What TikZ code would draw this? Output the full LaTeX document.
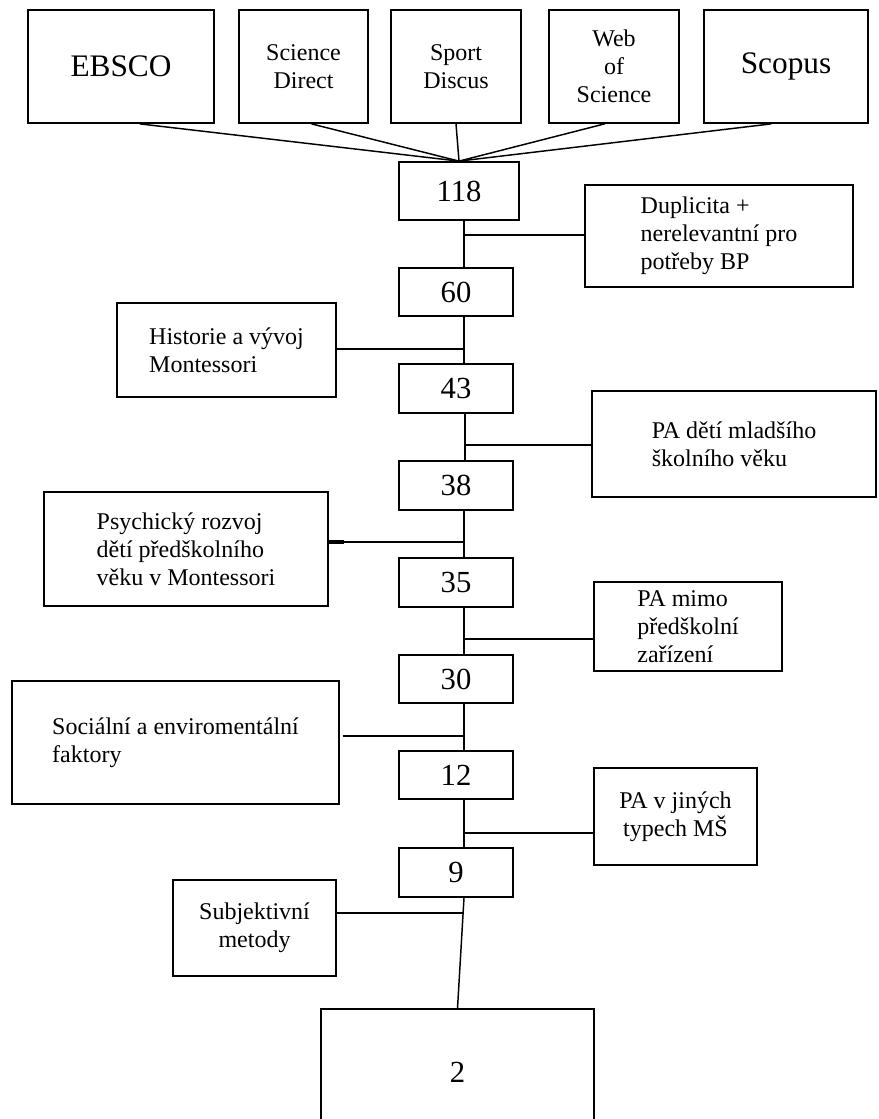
\documentclass[tikz,border=0pt]{standalone}
\usepackage{fontspec}
\setmainfont{Liberation Serif}
\begin{document}
\begin{tikzpicture}[x=0.75pt,y=-0.75pt,
  bx/.style 2 args={draw, line width=1.3pt, inner sep=0pt, minimum width={#1*0.75pt}, minimum height={#2*0.75pt}},
  txt/.style={font=\fontsize{18}{21}\selectfont, align=left},
  ctxt/.style={font=\fontsize{18}{21}\selectfont, align=center},
  big/.style={font=\fontsize{23.5}{28}\selectfont},
  num/.style={font=\fontsize{23}{28}\selectfont},
  con/.style={line width=1.1pt}]
\useasboundingbox (0,0) rectangle (878,1119);
\clip (0,0) rectangle (878,1119);
% top sources
\node[bx={186}{113}, big] (ebsco) at (121,66.5) {EBSCO};
\node[bx={129}{113}, ctxt] (scidir) at (303.5,66.5) {Science\\Direct};
\node[bx={130}{113}, ctxt] (sport) at (456,66.5) {Sport\\Discus};
\node[bx={130}{113}, ctxt] (wos) at (614,66.5) {Web\\of\\Science};
\node[bx={164}{113}, big] (scopus) at (786,66.5) {Scopus};
% counts
\node[bx={120}{58}, num] (n118) at (459,191) {118};
\node[bx={114}{48}, num] (n60) at (456,292) {60};
\node[bx={114}{49}, num] (n43) at (456,388.5) {43};
\node[bx={114}{49}, num] (n38) at (456,485.5) {38};
\node[bx={114}{49}, num] (n35) at (456,582.5) {35};
\node[bx={114}{48}, num] (n30) at (456,679) {30};
\node[bx={114}{48}, num] (n12) at (456,775) {12};
\node[bx={114}{49}, num] (n9) at (456,872.5) {9};
\node[bx={273}{126}, num] (n2) at (457.5,1072) {2};
% exclusion boxes
\node[bx={268}{102}, txt] (dup) at (719,236) {Duplicita +\\nerelevantní pro\\potřeby BP};
\node[bx={219}{94}, txt] (hist) at (226.5,350) {Historie a vývoj\\Montessori};
\node[bx={284}{106}, txt] (padeti) at (734,444) {PA dětí mladšího\\školního věku};
\node[bx={284}{114}, txt] (psy) at (186,549) {Psychický rozvoj\\dětí předškolního\\věku v Montessori};
\node[bx={188}{89}, txt] (pamimo) at (688,626.5) {PA mimo\\předškolní\\zařízení};
\node[bx={327}{123}, txt] (soc) at (175.5,742.5) {Sociální a enviromentální\\faktory};
\node[bx={163}{97}, ctxt] (pajin) at (675.5,816.5) {PA v jiných\\typech MŠ};
\node[bx={163}{96}, ctxt] (subj) at (254.5,928) {Subjektivní\\metody};
% junctions on the spine
\coordinate (j1) at (464,235);
\coordinate (j2) at (464,349);
\coordinate (j3) at (465,445);
\coordinate (j4) at (464,542);
\coordinate (j5) at (464,639);
\coordinate (j6) at (464,736);
\coordinate (j7) at (464,833);
\coordinate (j8) at (464,913);
% converging lines
\draw[con] ([xshift=14pt]ebsco.south) -- (n118.north);
\draw[con] ([xshift=6pt]scidir.south) -- (n118.north);
\draw[con] (sport.south) -- (n118.north);
\draw[con] ([xshift=-7pt]wos.south) -- (n118.north);
\draw[con] ([xshift=-11pt]scopus.south) -- (n118.north);
% spine
\draw[con] (j1 |- n118.south) -- (j1 |- n60.north);
\draw[con] (j2 |- n60.south) -- (j2 |- n43.north);
\draw[con] (j3 |- n43.south) -- (j3 |- n38.north);
\draw[con] (j4 |- n38.south) -- (j4 |- n35.north);
\draw[con] (j5 |- n35.south) -- (j5 |- n30.north);
\draw[con] (j6 |- n30.south) -- (j6 |- n12.north);
\draw[con] (j7 |- n12.south) -- (j7 |- n9.north);
\draw[con] (j8 |- n9.south) -- (n2.north);
% side connectors
\draw[con] (dup.west |- j1) -- (j1);
\draw[con] (hist.east |- j2) -- (j2);
\draw[con] (padeti.west |- j3) -- (j3);
\draw[con] (psy.east |- j4) -- (j4);
\draw[line width=2.4pt] (psy.east |- j4) -- ([xshift=11pt]psy.east |- j4);
\draw[con] (pamimo.west |- j5) -- (j5);
\draw[con] ([xshift=2pt]soc.east |- j6) -- (j6);
\draw[con] (pajin.west |- j7) -- (j7);
\draw[con] (subj.east |- j8) -- (j8);
\end{tikzpicture}
\end{document}
